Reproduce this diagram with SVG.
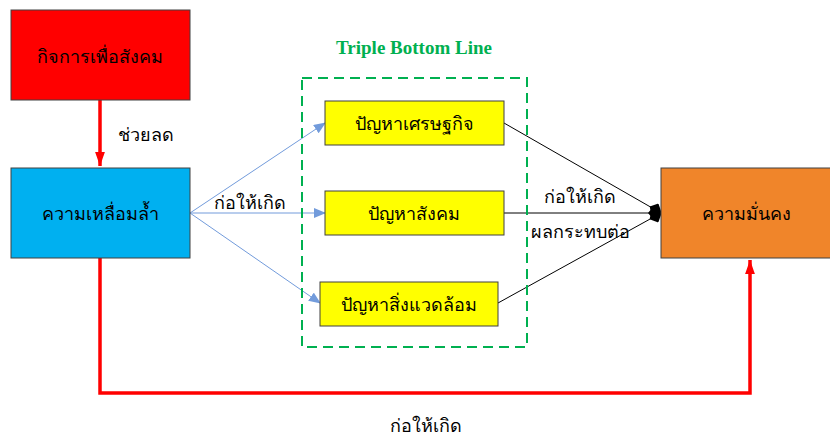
<svg xmlns="http://www.w3.org/2000/svg" width="830" height="437" viewBox="0 0 830 437">
<style>
.box{stroke:#404040;stroke-width:1}
.t{font-family:"Liberation Serif","Noto Sans",serif;font-size:18px;fill:#000;text-anchor:middle;dominant-baseline:central}
.blue{stroke:#729BDB;stroke-width:1;fill:none}
.blk{stroke:#000;stroke-width:1;fill:none}
.red{stroke:#FF0000;stroke-width:3.5;fill:none}
</style>
<defs>
<marker id="ab" markerWidth="12" markerHeight="10" refX="11" refY="5" orient="auto" markerUnits="userSpaceOnUse"><path d="M0,0 L12,5 L0,10 Z" fill="#729BDB"/></marker>
<marker id="ak" markerWidth="14" markerHeight="14" refX="13" refY="7" orient="auto" markerUnits="userSpaceOnUse"><path d="M0,7 L6,0 L14,7 L6,14 Z" fill="#000"/></marker>
<marker id="ar" markerWidth="14" markerHeight="20" refX="20" refY="7" orient="auto" markerUnits="userSpaceOnUse" viewBox="0 0 20 14"><path d="M0,0 L20,7 L0,14 Z" fill="#FF0000"/></marker>
</defs>
<g id="connectors">
<line class="red" x1="100" y1="100" x2="100" y2="166" marker-end="url(#ar)"/>
<polyline class="red" points="100,258 100,393 750,393 750,260" marker-end="url(#ar)"/>
<line class="blue" x1="190" y1="213" x2="325" y2="123" marker-end="url(#ab)"/>
<line class="blue" x1="190" y1="213" x2="325" y2="213" marker-end="url(#ab)"/>
<line class="blue" x1="190" y1="213" x2="320" y2="303" marker-end="url(#ab)"/>
<line class="blk" x1="504" y1="123" x2="661" y2="213" marker-end="url(#ak)"/>
<line class="blk" x1="504" y1="213" x2="661" y2="213" marker-end="url(#ak)"/>
<line class="blk" x1="498" y1="303" x2="661" y2="213" marker-end="url(#ak)"/>
<text class="t" x="146" y="135">ช่วยลด</text>
<text class="t" x="250" y="203">ก่อให้เกิด</text>
<text class="t" x="580" y="197">ก่อให้เกิด</text>
<text class="t" x="580" y="232">ผลกระทบต่อ</text>
<text class="t" x="426" y="426">ก่อให้เกิด</text>
</g>
<g id="tbl">
<rect x="302" y="78" width="225" height="269" fill="none" stroke="#00B050" stroke-width="2" stroke-dasharray="10,6"/>
<text x="414" y="47" font-family="Liberation Serif,serif" font-weight="bold" font-size="19" fill="#00B050" text-anchor="middle" dominant-baseline="central">Triple Bottom Line</text>
</g>
<g id="n1"><rect class="box" x="11" y="10" width="179" height="90" fill="#FF0000"/><text class="t" x="100" y="57">กิจการเพื่อสังคม</text></g>
<g id="n2"><rect class="box" x="11" y="168" width="179" height="90" fill="#00B0F0"/><text class="t" x="100" y="214">ความเหลื่อมล้ำ</text></g>
<g id="n3"><rect class="box" x="661" y="168" width="170" height="90" fill="#F0852A"/><text class="t" x="746" y="214">ความมั่นคง</text></g>
<g id="n4"><rect class="box" x="325" y="101" width="179" height="44" fill="#FFFF00"/><text class="t" x="414" y="124">ปัญหาเศรษฐกิจ</text></g>
<g id="n5"><rect class="box" x="325" y="191" width="179" height="44" fill="#FFFF00"/><text class="t" x="414" y="214">ปัญหาสังคม</text></g>
<g id="n6"><rect class="box" x="320" y="282" width="178" height="44" fill="#FFFF00"/><text class="t" x="409" y="305">ปัญหาสิ่งแวดล้อม</text></g>
</svg>
